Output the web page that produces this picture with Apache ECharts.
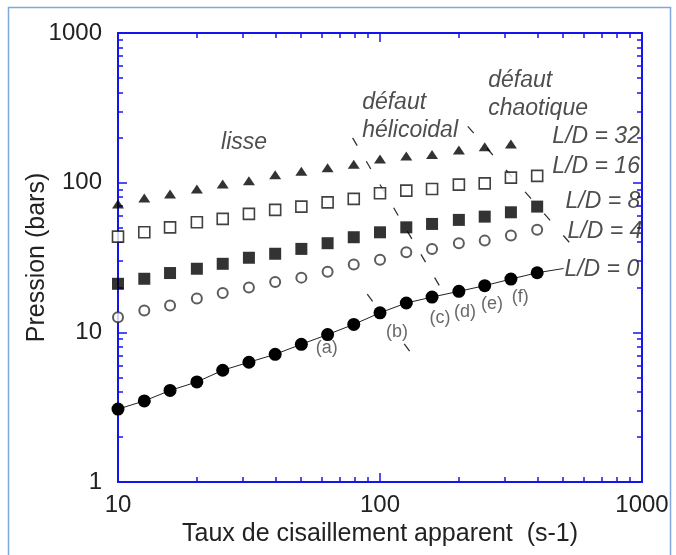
<!DOCTYPE html>
<html>
<head>
<meta charset="utf-8">
<title>Pression en fonction du taux de cisaillement</title>
<script src="https://cdn.jsdelivr.net/npm/echarts@6/dist/echarts.min.js"></script>
<style>
  html, body { margin: 0; padding: 0; background: #fff; }
  #chart { width: 676px; height: 555px; }
</style>
</head>
<body>
<div id="chart"></div>
<script>
// taux de cisaillement apparent (s-1)
const shearRates = [10, 12.6, 15.8, 20, 25.1, 31.6, 39.8, 50.1, 63.1, 79.4, 100, 126, 158, 200, 251, 316, 398]

// pression (bars) pour chaque L/D
const pLD32 = [72.1, 79, 84.1, 90.8, 98, 103, 113, 119, 126, 133, 144, 151, 154, 165, 174, 181]
const pLD16 = [43.6, 46.6, 50.3, 54.4, 57.3, 61.9, 65.8, 69.2, 73.9, 77.9, 84.9, 88.5, 90.8, 97, 98.9, 108, 111]
const pLD8 = [21.1, 22.8, 24.9, 26.6, 28.7, 31.5, 33.5, 36.1, 39.4, 43.2, 46.6, 50.3, 53.0, 56.4, 59.3, 63.4, 69.2]
const pLD4 = [12.6, 14.0, 15.1, 16.8, 18.3, 19.9, 21.7, 23.2, 25.4, 28.4, 30.5, 34.3, 36.1, 39.4, 41.0, 44.3, 48.4]
const pLD0 = [3.07, 3.48, 4.09, 4.66, 5.58, 6.31, 7.13, 8.32, 9.66, 11.3, 13.5, 15.7, 17.2, 18.8, 20.5, 22.7, 25.0]
// prolongement de la droite L/D = 0 jusqu'a son etiquette
const ld0Tail = [[398, 25.0], [502, 26.7]]

// limites entre regimes (en unites des axes)
const helicalLimit = [[78.6, 199], [168.5, 20.5]]
const bLimit = [[89.4, 18.0], [129.9, 7.47]]
const chaoticLimit = [[216.3, 237.7], [527.5, 40.0]]

// annotations : texte, x, y, alignement
const notes = [
  ['lisse', 30.3, 184, 'center'],
  ['défaut', 85.5, 345, 'left'],
  ['hélicoidal', 85.5, 224, 'left'],
  ['défaut', 259, 484, 'left'],
  ['chaotique', 259, 310, 'left'],
  ['L/D = 32', 455, 202, 'left'],
  ['L/D = 16', 455, 127, 'left'],
  ['L/D = 8', 511, 74.2, 'left'],
  ['L/D = 4', 520, 46.8, 'left'],
  ['L/D = 0', 506, 26.1, 'left']
]
const regimeLabels = [
  ['(a)', 62.7, 7.89],
  ['(b)', 116.1, 10.1],
  ['(c)', 169.4, 12.5],
  ['(d)', 211.3, 13.7],
  ['(e)', 267.9, 15.5],
  ['(f)', 342.8, 17.3]
]

const X_RANGE = [10, 1000]
const Y_RANGE = [1, 1000]

const FONT = '"Liberation Sans", Arial, sans-serif'
const AXIS_BLUE = '#1414ee'
const INK = '#222'

function pairs(values) {
  return values.map((v, i) => [shearRates[i], v])
}

// axe log avec graduations interieures (majeures et mineures)
function logAxis(range, extra) {
  return Object.assign({
    type: 'log', logBase: 10, min: range[0], max: range[1],
    axisLine: { show: true, lineStyle: { color: AXIS_BLUE, width: 2 } },
    axisTick: { show: true, inside: true, length: 9, lineStyle: { color: AXIS_BLUE, width: 1.5 } },
    minorTick: { show: true, splitNumber: 9, length: 5, lineStyle: { color: AXIS_BLUE, width: 1.5 } },
    splitLine: { show: false },
    minorSplitLine: { show: false }
  }, extra)
}

const hiddenLabels = { axisLabel: { show: false } }

const chart = echarts.init(document.getElementById('chart'))

const limitStyle = (dash) => ({
  type: 'line',
  showSymbol: false,
  silent: true,
  lineStyle: { color: '#333', width: 1.3, type: dash },
  z: 1
})

chart.setOption({
  animation: false,
  backgroundColor: '#fff',
  textStyle: { fontFamily: FONT },
  graphic: [{
    type: 'rect',
    shape: { x: 8.5, y: 7.5, width: 662, height: 560 },
    style: { fill: 'transparent', stroke: '#7fa8dc', lineWidth: 1.5 },
    silent: true
  }],
  grid: { left: 118, right: 34, top: 33, bottom: 73 },
  xAxis: [
    logAxis(X_RANGE, {
      position: 'bottom',
      name: 'Taux de cisaillement apparent  (s-1)',
      nameLocation: 'middle', nameGap: 36,
      nameTextStyle: { fontSize: 25, color: INK, fontFamily: FONT },
      axisLabel: { fontSize: 24, color: INK, margin: 11, fontFamily: FONT, formatter: v => String(v) }
    }),
    logAxis(X_RANGE, Object.assign({ position: 'top' }, hiddenLabels))
  ],
  yAxis: [
    logAxis(Y_RANGE, {
      position: 'left',
      name: 'Pression (bars)',
      nameLocation: 'middle', nameGap: 68, nameMoveOverlap: false,
      nameTextStyle: { fontSize: 25, color: INK, fontFamily: FONT },
      axisLabel: { fontSize: 24, color: INK, margin: 16, fontFamily: FONT, formatter: v => String(v) }
    }),
    logAxis(Y_RANGE, Object.assign({ position: 'right' }, hiddenLabels))
  ],
  series: [
    Object.assign({ name: 'helical', data: helicalLimit }, limitStyle([9, 18])),
    Object.assign({ name: 'b', data: bLimit }, limitStyle([9, 53])),
    Object.assign({ name: 'chaotic', data: chaoticLimit }, limitStyle([9, 20])),
    {
      name: 'L/D = 0 tail', type: 'line', data: ld0Tail, showSymbol: false, silent: true,
      lineStyle: { color: INK, width: 1 }
    },
    {
      name: 'L/D = 0', type: 'line', data: pairs(pLD0),
      symbol: 'circle', symbolSize: 13, showAllSymbol: true,
      itemStyle: { color: '#000' }, lineStyle: { color: INK, width: 1 }, z: 3
    },
    {
      name: 'L/D = 4', type: 'scatter', data: pairs(pLD4),
      symbol: 'circle', symbolSize: 10,
      itemStyle: { color: '#fff', borderColor: '#333', borderWidth: 2 }, z: 3
    },
    {
      name: 'L/D = 8', type: 'scatter', data: pairs(pLD8),
      symbol: 'rect', symbolSize: 12,
      itemStyle: { color: '#000' }, z: 3
    },
    {
      name: 'L/D = 16', type: 'scatter', data: pairs(pLD16),
      symbol: 'rect', symbolSize: 11,
      itemStyle: { color: '#fff', borderColor: '#111', borderWidth: 1.6 }, z: 3
    },
    {
      name: 'L/D = 32', type: 'scatter', data: pairs(pLD32),
      symbol: 'triangle', symbolSize: [12, 9],
      itemStyle: { color: '#000' }, z: 3
    },
    {
      name: 'notes', type: 'scatter', silent: true, symbolSize: 0.1,
      itemStyle: { color: 'transparent' },
      data: notes.map(([text, x, y, align]) => ({
        value: [x, y], name: text,
        label: { align }
      })),
      label: {
        show: true, position: [0, 0], verticalAlign: 'middle',
        formatter: p => p.name,
        fontSize: 23, fontStyle: 'italic', color: INK, fontFamily: FONT
      },
      z: 4
    },
    {
      name: 'regimes', type: 'scatter', silent: true, symbolSize: 0.1,
      itemStyle: { color: 'transparent' },
      data: regimeLabels.map(([text, x, y]) => ({ value: [x, y], name: text })),
      label: {
        show: true, position: [0, 0], align: 'center', verticalAlign: 'middle',
        formatter: p => p.name,
        fontSize: 18, color: '#444', fontFamily: FONT
      },
      z: 4
    }
  ]
})

window.addEventListener('resize', () => chart.resize())
</script>
</body>
</html>
